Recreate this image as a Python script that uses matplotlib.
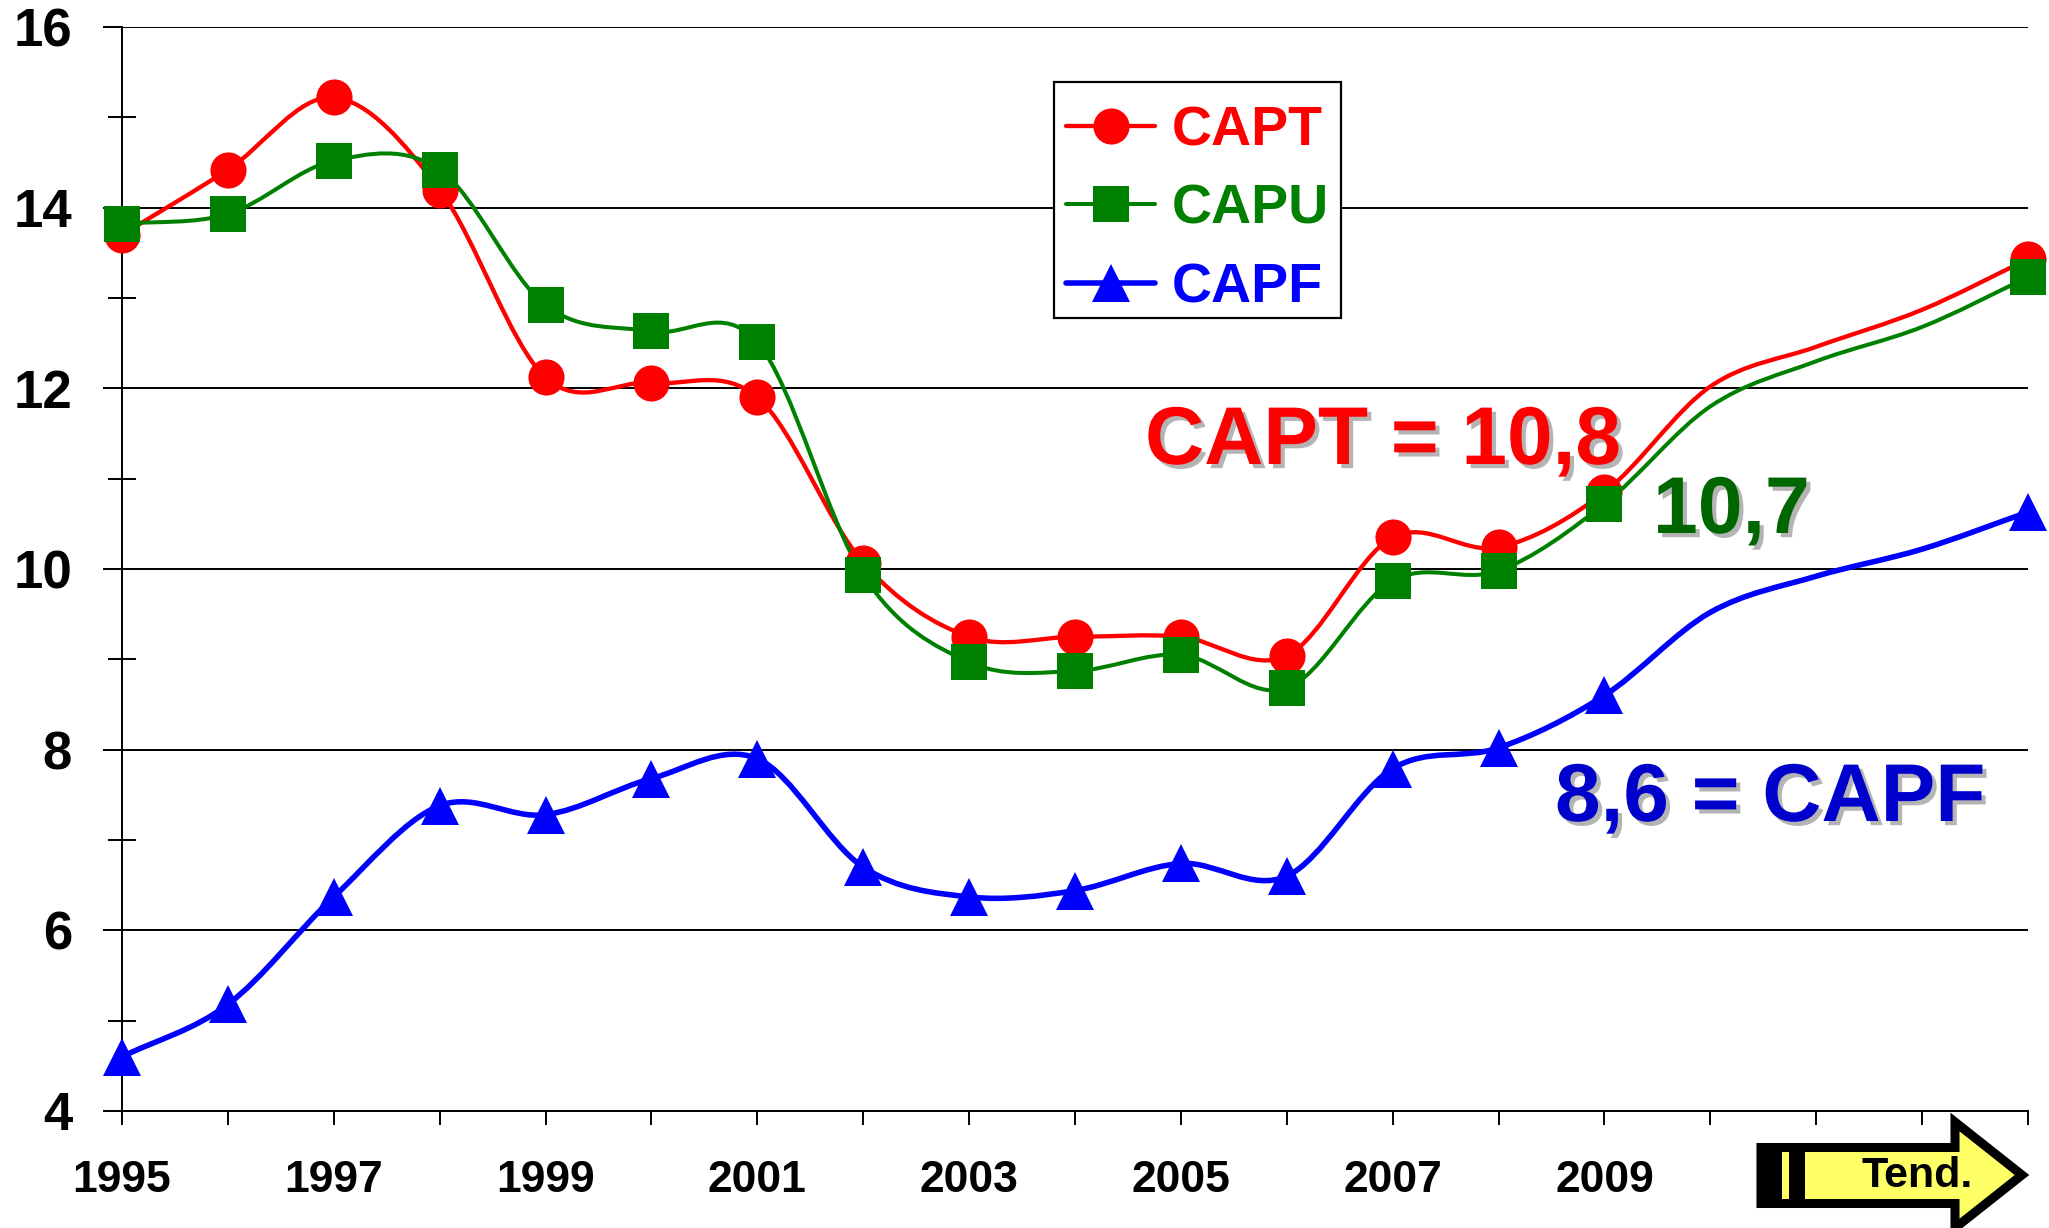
import numpy as np
import matplotlib
matplotlib.use("Agg")
from matplotlib import pyplot as plt
from matplotlib.path import Path
from matplotlib.patches import PathPatch, Polygon, Rectangle
from matplotlib.lines import Line2D
import matplotlib.patheffects as pe

# data (2010-2012 are trend points, no marker)
years = list(range(1995, 2014))
capt = [13.7, 14.42, 15.22, 14.2, 12.12, 12.06, 11.9, 10.07, 9.25, 9.25,
        9.25, 9.04, 10.35, 10.24, 10.85, 12.02, 12.46, 12.87, 13.43]
capu = [13.82, 13.93, 14.52, 14.42, 12.92, 12.63, 12.51, 9.93, 8.97, 8.87,
        9.05, 8.68, 9.87, 9.98, 10.72, 11.8, 12.3, 12.68, 13.23]
capf = [4.6, 5.18, 6.37, 7.38, 7.28, 7.68, 7.9, 6.7, 6.37, 6.44,
        6.74, 6.6, 7.79, 8.02, 8.6, 9.52, 9.92, 10.22, 10.63]
marked_years = list(range(1995, 2010)) + [2013]

tick_labels = [str(y) if (y % 2 == 1 and y <= 2009) else "" for y in years]

W, H = 2049, 1228
FONT = "Liberation Sans"


def px(x, y):
    # pixel position -> figure fraction
    return (x / W, 1 - y / H)


def smooth_path(xs, ys):
    # cubic hermite through the points (like excel smoothed lines)
    xs = np.asarray(xs, float)
    ys = np.asarray(ys, float)
    n = len(xs)
    m = np.zeros(n)
    for i in range(n):
        a = max(i - 1, 0)
        b = min(i + 1, n - 1)
        m[i] = (ys[b] - ys[a]) / (xs[b] - xs[a])
    verts = [(xs[0], ys[0])]
    codes = [Path.MOVETO]
    for i in range(n - 1):
        dx = xs[i + 1] - xs[i]
        verts += [(xs[i] + dx / 3, ys[i] + m[i] * dx / 3),
                  (xs[i + 1] - dx / 3, ys[i + 1] - m[i + 1] * dx / 3),
                  (xs[i + 1], ys[i + 1])]
        codes += [Path.CURVE4] * 3
    return Path(verts, codes)


plt.rcParams["font.family"] = [FONT, "DejaVu Sans"]
plt.rcParams["font.weight"] = "bold"

fig = plt.figure(figsize=(W / 100, H / 100), dpi=100)
left, bottom = px(122, 1111)
right, top = px(2028, 27)
ax = fig.add_axes([left, bottom, right - left, top - bottom])

series = [
    ("CAPT", capt, "#FF0000", "o", 26, 3.1),
    ("CAPU", capu, "#008000", "s", 26, 2.9),
    ("CAPF", capf, "#0000FF", "^", 28, 4.0),
]
mark_idx = [years.index(y) for y in marked_years]

handles = []
for name, vals, col, mk, ms, lw in series:
    patch = PathPatch(smooth_path(years, vals), fill=False, edgecolor=col,
                      lw=lw, capstyle="round", joinstyle="round", zorder=3,
                      clip_on=False)
    ax.add_patch(patch)
    ax.plot(years, vals, linestyle="none", marker=mk, ms=ms, color=col,
            markeredgewidth=0, markevery=mark_idx, zorder=4, clip_on=False)
    handles.append(Line2D([], [], color=col, lw=lw, marker=mk, ms=ms,
                          markeredgewidth=0, solid_capstyle="round"))

ax.set_xlim(1995, 2013)
ax.set_ylim(4, 16)

ax.set_yticks(range(4, 17, 2))
ax.set_yticks(range(5, 16, 2), minor=True)
ax.set_xticks(years)
ax.set_xticklabels(tick_labels)

ax.yaxis.grid(True, which="major", color="black", lw=1.4)
ax.set_axisbelow(True)

for s in ["top", "right"]:
    ax.spines[s].set_visible(False)
for s in ["left", "bottom"]:
    ax.spines[s].set_linewidth(1.4)
    ax.spines[s].set_color("black")

ax.tick_params(axis="y", which="major", direction="out", length=14, width=1.4,
               pad=22, labelsize=38)
ax.tick_params(axis="y", which="minor", direction="inout", length=20, width=1.4)
ax.tick_params(axis="x", direction="out", length=10, width=1.4, pad=25,
               labelsize=32)
for t in ax.get_xticklabels() + ax.get_yticklabels():
    t.set_fontweight("bold")

# legend without its own frame, the box is drawn separately inside the axes
x0, y0 = px(1054, 318)
x1, y1 = px(1341, 82)
ax.add_artist(Rectangle((x0, y0), x1 - x0, y1 - y0, facecolor="white",
                        edgecolor="black", lw=1.6, zorder=5,
                        transform=fig.transFigure, clip_on=False))
leg = ax.legend(handles, [s[0] for s in series], loc="upper left",
                bbox_to_anchor=px(1054, 93), bbox_transform=fig.transFigure,
                fontsize=40, frameon=False, handlelength=1.6,
                handletextpad=0.3, borderpad=0.22, labelspacing=0.48,
                borderaxespad=0)
leg.set_zorder(6)
for txt, s in zip(leg.get_texts(), series):
    txt.set_color(s[2])
    txt.set_fontweight("bold")

shadow = [pe.withSimplePatchShadow(offset=(3, -3), shadow_rgbFace="#b4b4b4",
                                   alpha=1.0)]
fig.text(*px(1145, 464), "CAPT = 10,8", color="#FF0000", fontsize=59,
         fontweight="bold", ha="left", va="baseline", path_effects=shadow)
fig.text(*px(1653, 533), "10,7", color="#006600", fontsize=58,
         fontweight="bold", ha="left", va="baseline", path_effects=shadow)
fig.text(*px(1555, 821), "8,6 = CAPF", color="#0000CC", fontsize=59,
         fontweight="bold", ha="left", va="baseline", path_effects=shadow)

# "Tend." arrow
arrow_pts = [px(1761, 1147.5), px(1955, 1147.5), px(1955, 1122), px(2022, 1175),
             px(1955, 1228), px(1955, 1203.5), px(1761, 1203.5)]
fig.add_artist(Polygon(arrow_pts, closed=True, facecolor="#FFFF66",
                       edgecolor="black", lw=6.5, joinstyle="miter",
                       transform=fig.transFigure))
x0, y0 = px(1757, 1208)
x1, y1 = px(1805, 1143)
fig.add_artist(Rectangle((x0, y0), x1 - x0, y1 - y0, facecolor="black",
                         edgecolor="none", transform=fig.transFigure))
x0, y0 = px(1782, 1199)
x1, y1 = px(1789, 1152)
fig.add_artist(Rectangle((x0, y0), x1 - x0, y1 - y0, facecolor="#FFFF66",
                         edgecolor="none", transform=fig.transFigure))
fig.text(*px(1917, 1176), "Tend.", fontsize=31, fontweight="bold",
         color="black", ha="center", va="center")

fig.savefig("out.png", dpi=100)
